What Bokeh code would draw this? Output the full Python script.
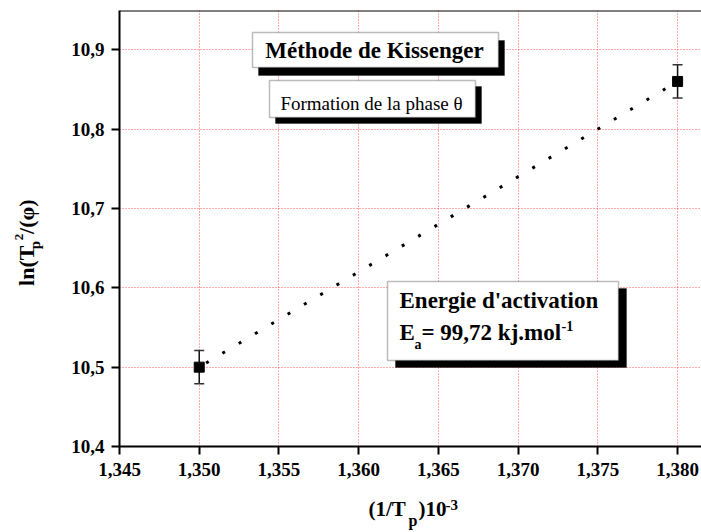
import numpy as np
from bokeh.plotting import figure
from bokeh.layouts import row, column
from bokeh.models import (Range1d, FixedTicker, CustomJSTickFormatter, Label,
                          BoxAnnotation, Whisker, TeeHead, ColumnDataSource, Span)
from bokeh.embed import file_html
from bokeh.resources import INLINE

# ---- data ----
x_vals = [1.350, 1.380]
y_vals = [10.50, 10.86]
y_err = [0.021, 0.021]
x_ticks = [1.345, 1.350, 1.355, 1.360, 1.365, 1.370, 1.375, 1.380]
y_ticks = [10.4, 10.5, 10.6, 10.7, 10.8, 10.9]

title_text = "Méthode de Kissenger"
subtitle_text = "Formation de la phase θ"
energy_title = "Energie d'activation"
energy_E = "E"
energy_sub = "a"
energy_value = "= 99,72 kj.mol"
energy_sup = "-1"

FONT = "Liberation Serif"

# ---- layout (page pixels) ----
PAGE_W, PAGE_H = 701, 532
YLAB_W = 60           # strip holding the y-axis title
TOP_H = 486          # height of main plot row
FL, FT = 119, 10     # frame left / top on the page
FRAME_H = 436
FW = PAGE_W - FL
X0, X1 = 1.345, 1.3815
Y0, Y1 = 10.4, 10.9494
MID = 0.34           # label anchor correction (fraction of font size)
ROT_DX, ROT_DY = -5, 17   # extra correction for rotated labels


def px(xp):
    return X0 + (xp - FL) / FW * (X1 - X0)


def py(yp):
    return Y1 - (yp - FT) / FRAME_H * (Y1 - Y0)


p = figure(width=PAGE_W - YLAB_W, height=TOP_H, output_backend="svg",
           toolbar_location=None,
           x_range=Range1d(X0, X1), y_range=Range1d(Y0, Y1),
           min_border_left=FL - YLAB_W, min_border_top=FT, min_border_right=0,
           min_border_bottom=TOP_H - FT - FRAME_H)
p.outline_line_color = None
p.background_fill_color = "white"
p.border_fill_color = "white"

p.xaxis.ticker = FixedTicker(ticks=x_ticks)
p.yaxis.ticker = FixedTicker(ticks=y_ticks)
p.xaxis.formatter = CustomJSTickFormatter(code="return tick.toFixed(3).replace('.', ',');")
p.yaxis.formatter = CustomJSTickFormatter(code="return tick.toFixed(1).replace('.', ',');")
for ax in (p.xaxis, p.yaxis):
    ax.axis_line_width = 2
    ax.axis_line_color = "black"
    ax.major_tick_line_width = 2
    ax.major_tick_line_color = "black"
    ax.major_tick_in = 0
    ax.major_tick_out = 8
    ax.minor_tick_line_color = None
    ax.major_label_text_font = FONT
    ax.major_label_text_font_size = "19px"
    ax.major_label_text_font_style = "bold"
    ax.major_label_text_color = "black"
p.xaxis.major_label_standoff = 8
p.yaxis.major_label_standoff = 7

p.grid.grid_line_color = "#ff4040"
p.grid.grid_line_alpha = 0.9
p.grid.grid_line_dash = "1 2"
p.grid.grid_line_width = 1

p.add_layout(Span(location=Y1, dimension="width", line_color="black", line_width=2))

# ---- fit line ----
coef = np.polyfit(x_vals, y_vals, 1)
fx = [x_vals[0], x_vals[-1]]
fy = list(np.polyval(coef, fx))
p.line(fx, fy, line_color="black", line_width=3, line_dash="3 16",
       line_dash_offset=11)

# ---- error bars & points ----
src = ColumnDataSource(dict(
    x=x_vals, y=y_vals,
    upper=[v + e for v, e in zip(y_vals, y_err)],
    lower=[v - e for v, e in zip(y_vals, y_err)]))
p.add_layout(Whisker(source=src, base="x", upper="upper", lower="lower",
                     line_color="#111", line_width=1.5,
                     upper_head=TeeHead(size=10, line_width=1.5, line_color="#333"),
                     lower_head=TeeHead(size=10, line_width=1.5, line_color="#333")))
p.scatter("x", "y", source=src, marker="square", size=10, color="black")


# ---- boxes with shadows ----
def shadow_box(l, t, r, b, dx, dy):
    p.add_layout(BoxAnnotation(left=px(l + dx), right=px(r + dx), top=py(t + dy),
                               bottom=py(b + dy), fill_color="black", fill_alpha=1,
                               line_color="black", line_width=1))
    p.add_layout(BoxAnnotation(left=px(l), right=px(r), top=py(t), bottom=py(b),
                               fill_color="white", fill_alpha=1,
                               line_color="#222", line_width=1.5))


shadow_box(252, 32, 498, 67, 6, 8)
shadow_box(269, 80, 475, 117, 6, 6)
shadow_box(387, 281, 618, 360, 8, 7)


def lab(fig, text, xp, yp, size, bold=True, align="left", angle=0,
        fx_=lambda v: v, fy_=lambda v: v):
    # xp, yp: page pixels of the text baseline start
    if angle == 0:
        yp = yp - MID * size
    else:
        xp = xp - MID * size + ROT_DX
        yp = yp + ROT_DY
    fig.add_layout(Label(x=fx_(xp), y=fy_(yp), text=text, text_font=FONT,
                         text_font_size=f"{size}px",
                         text_font_style="bold" if bold else "normal",
                         text_align=align, text_baseline="alphabetic",
                         text_color="black", angle=angle, angle_units="deg"))


def mlab(*a, **k):
    lab(p, *a, fx_=px, fy_=py, **k)


mlab(title_text, 374, 58, 23, align="center")
mlab(subtitle_text, 371, 109, 19, bold=False, align="center")
mlab(energy_title, 399, 308, 23)
mlab(energy_E, 399, 340, 23)
mlab(energy_sub, 414, 349, 14)
mlab(energy_value, 421, 340, 23)
mlab(energy_sup, 561, 330, 14)


# ---- strips carrying the axis titles (page-pixel coordinates) ----
def strip(w, h, x_lo, y_top):
    f = figure(width=w, height=h, output_backend="svg", toolbar_location=None,
               x_range=Range1d(x_lo, x_lo + w), y_range=Range1d(y_top + h, y_top),
               min_border=0, outline_line_color=None)
    f.axis.visible = False
    f.grid.visible = False
    f.background_fill_color = "white"
    f.border_fill_color = "white"
    return f


ylab = strip(YLAB_W, TOP_H, 0, 0)
lab(ylab, "ln(T", 38, 290, 22, angle=90)
lab(ylab, "p", 45, 249, 15, angle=90)
lab(ylab, "2", 28, 239, 13, angle=90)
lab(ylab, "/(φ)", 38, 232, 22, angle=90)

xlab = strip(PAGE_W, PAGE_H - TOP_H, 0, TOP_H)
lab(xlab, "(1/T", 368, 516, 21)
lab(xlab, "p", 408, 525, 16)
lab(xlab, ")10", 418, 516, 21)
lab(xlab, "-3", 445, 510, 15)

layout = column(row(ylab, p, spacing=0), xlab, spacing=0)
open("out.html", "w").write(file_html(layout, INLINE))
